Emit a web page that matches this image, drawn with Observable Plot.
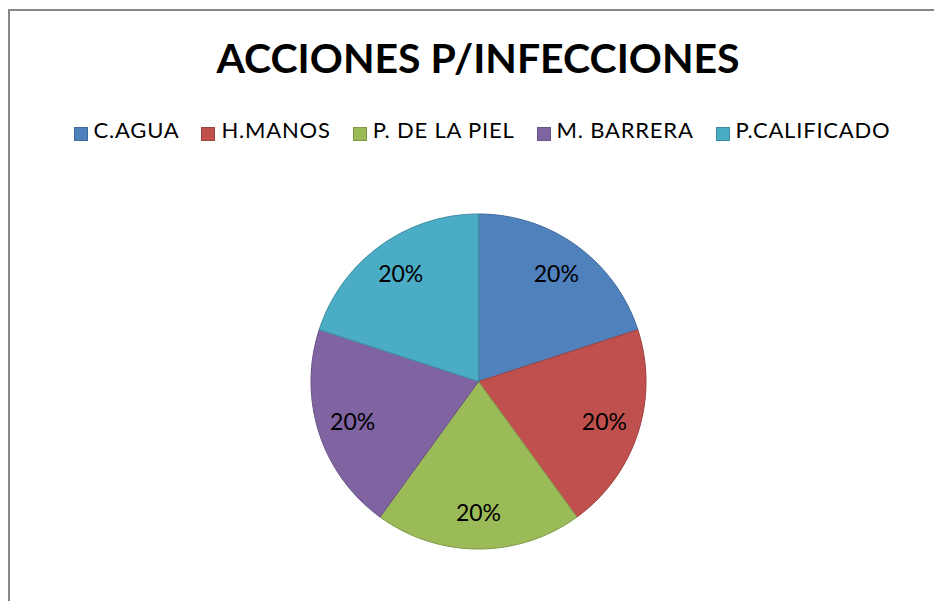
<!DOCTYPE html>
<html>
<head>
<meta charset="utf-8">
<script src="https://cdn.jsdelivr.net/npm/d3@7"></script>
<script src="https://cdn.jsdelivr.net/npm/@observablehq/plot@0.6"></script>
<style>
  html, body { margin: 0; padding: 0; background: #fff; }
  #chart { position: relative; width: 934px; height: 601px; overflow: hidden; background: #fff; font-family: Lato, "Open Sans", sans-serif; }
  #frame { position: absolute; left: 8px; top: 9px; width: 940px; height: 620px; border-left: 2px solid #868686; border-top: 2px solid #868686; }
  #title { position: absolute; left: 22px; width: 912px; top: 37px; text-align: center; font-weight: bold; font-size: 41px; line-height: 41px; color: #000; white-space: nowrap; }
  #legend { position: absolute; left: 0; width: 964px; top: 119px; display: flex; justify-content: center; font-size: 22px; line-height: 22px; letter-spacing: 0.8px; color: #000; white-space: nowrap; }
  .item { display: flex; align-items: flex-start; margin: 0 11px; }
  .sw { width: 12px; height: 12px; margin-top: 8px; margin-right: 6px; border: 1px solid; }
  #pie { position: absolute; left: 278px; top: 181px; }
</style>
</head>
<body>
<div id="chart">
  <div id="frame"></div>
  <div id="title"></div>
  <div id="legend"></div>
  <div id="pie"></div>
</div>
<script>
const title = "ACCIONES P/INFECCIONES";
const categories = ["C.AGUA", "H.MANOS", "P. DE LA PIEL", "M. BARRERA", "P.CALIFICADO"];
const values = [1, 1, 1, 1, 1];
const colors = ["#4F81BD", "#C0504D", "#9BBB59", "#8064A2", "#4BACC6"];

document.getElementById("title").textContent = title;

const legend = document.getElementById("legend");
categories.forEach((c, i) => {
  const item = document.createElement("div");
  item.className = "item";
  const sw = document.createElement("div");
  sw.className = "sw";
  sw.style.background = colors[i];
  sw.style.borderColor = d3.color(colors[i]).darker(0.6).formatHex();
  const t = document.createElement("span");
  t.textContent = c;
  item.appendChild(sw);
  item.appendChild(t);
  legend.appendChild(item);
});

const R = 167.5;
const total = d3.sum(values);
const arcs = d3.pie().sort(null).value(d => d)(values);

const points = [];
arcs.forEach((a, i) => {
  const name = categories[i];
  points.push({name, i, x: 0, y: 0});
  const n = 60;
  for (let k = 0; k <= n; k++) {
    const ang = a.startAngle + (a.endAngle - a.startAngle) * k / n;
    points.push({name, i, x: R * Math.sin(ang), y: -R * Math.cos(ang)});
  }
});

const labelR = R * 0.79;
const labels = arcs.map((a, i) => {
  const mid = (a.startAngle + a.endAngle) / 2;
  return {name: categories[i], x: labelR * Math.sin(mid), y: -labelR * Math.cos(mid), pct: values[i] / total};
});

const plot = Plot.plot({
  width: 400,
  height: 400,
  margin: 0,
  x: {domain: [-200, 200], axis: null},
  y: {domain: [200, -200], axis: null},
  color: {type: "identity"},
  style: {background: "transparent", overflow: "visible"},
  marks: [
    Plot.line(points, {
      x: "x", y: "y", z: "name",
      fill: d => colors[d.i],
      stroke: d => d3.color(colors[d.i]).darker(0.6).formatHex(),
      strokeWidth: 1,
      curve: "linear-closed"
    }),
    Plot.text(labels, {
      x: "x", y: "y",
      text: d => d3.format(".0%")(d.pct),
      fontSize: 23,
      fontFamily: "Lato, sans-serif",
      fill: "#000",
      textAnchor: "middle",
      lineAnchor: "middle"
    })
  ]
});
document.getElementById("pie").appendChild(plot);
</script>
</body>
</html>
